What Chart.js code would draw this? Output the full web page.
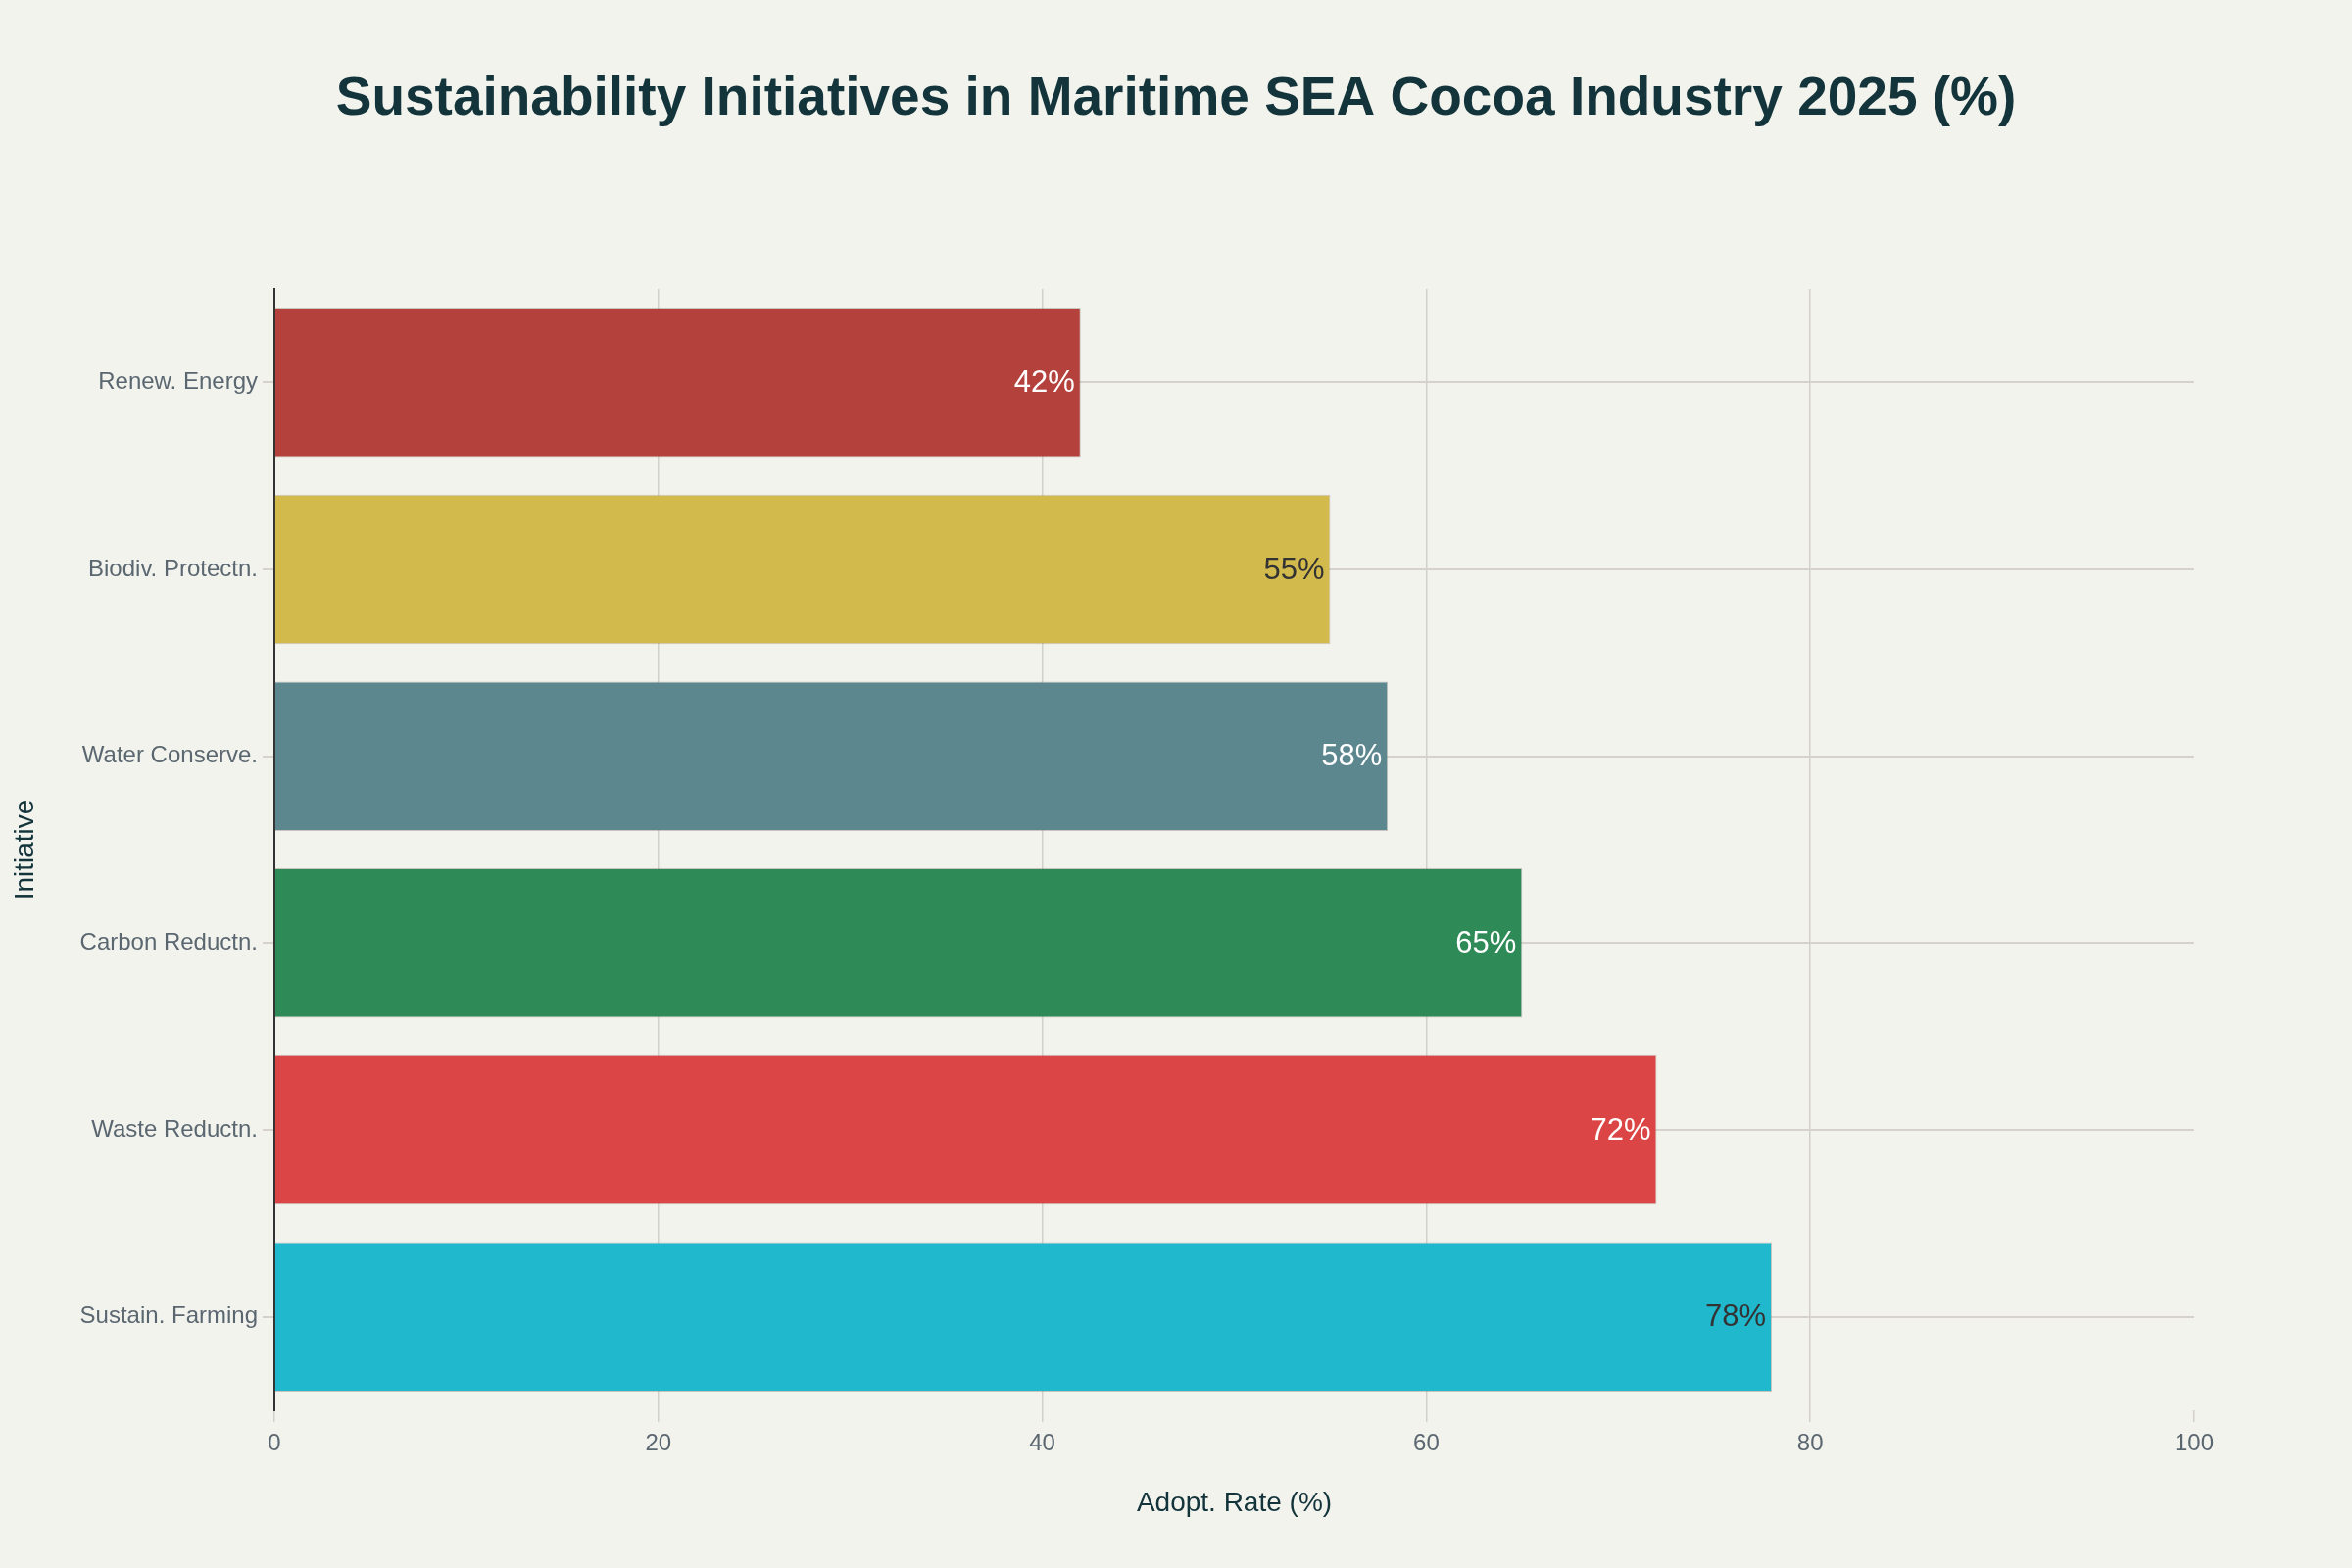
<!DOCTYPE html>
<html>
<head>
<meta charset="utf-8">
<script src="https://cdn.jsdelivr.net/npm/chart.js@4.4.1/dist/chart.umd.min.js"></script>
<style>
  html, body { margin: 0; padding: 0; background: #F3F3EE; }
  canvas { display: block; }
</style>
</head>
<body>
<canvas id="c" width="2400" height="1600"></canvas>
<script>
// ---- data ----
const titleText = 'Sustainability Initiatives in Maritime SEA Cocoa Industry 2025 (%)';
const categories = ['Renew. Energy', 'Biodiv. Protectn.', 'Water Conserve.', 'Carbon Reductn.', 'Waste Reductn.', 'Sustain. Farming'];
const adoptionRates = [42, 55, 58, 65, 72, 78];
const xAxisTitle = 'Adopt. Rate (%)';
const yAxisTitle = 'Initiative';
const xMin = 0, xMax = 100, xStep = 20;
const barColors = ['#B4413C', '#D2BA4C', '#5D878F', '#2E8B57', '#DB4545', '#1FB8CD'];

// ---- style ----
const FONT = '"Liberation Sans", Arial, sans-serif';
const TITLE_COLOR = '#13343B';
const TICK_COLOR = '#5B6770';
const GRID_COLOR = '#D6D1CC';
const BG = '#F3F3EE';

// fit title width to reference
const mctx = document.createElement('canvas').getContext('2d');
mctx.font = 'bold 100px ' + FONT;
const titleSize = Math.round(100 * 1722 / mctx.measureText(titleText).width);
const titleLH = 1.2;
const titleCenterY = 102;

function luminance(hex) {
  const r = parseInt(hex.slice(1, 3), 16), g = parseInt(hex.slice(3, 5), 16), b = parseInt(hex.slice(5, 7), 16);
  return (0.2126 * r + 0.7152 * g + 0.0722 * b) / 255;
}

const bgPlugin = {
  id: 'bg',
  beforeDraw(chart) {
    const ctx = chart.ctx;
    ctx.save();
    ctx.fillStyle = BG;
    ctx.fillRect(0, 0, chart.width, chart.height);
    ctx.restore();
  }
};

const valueLabels = {
  id: 'valueLabels',
  afterDatasetsDraw(chart) {
    const ctx = chart.ctx;
    const meta = chart.getDatasetMeta(0);
    ctx.save();
    ctx.font = '31px ' + FONT;
    ctx.textAlign = 'right';
    ctx.textBaseline = 'middle';
    meta.data.forEach((bar, i) => {
      ctx.fillStyle = luminance(barColors[i]) > 0.55 ? '#333333' : '#FFFFFF';
      ctx.fillText(adoptionRates[i] + '%', bar.x - 6, bar.y + 1);
    });
    ctx.restore();
  }
};

Chart.defaults.font.family = FONT;

new Chart(document.getElementById('c'), {
  type: 'bar',
  data: {
    labels: categories,
    datasets: [{
      data: adoptionRates,
      backgroundColor: barColors,
      borderColor: 'rgba(120,110,100,0.35)',
      borderWidth: 1,
      barPercentage: 0.8,
      categoryPercentage: 1.0
    }]
  },
  options: {
    indexAxis: 'y',
    responsive: false,
    animation: false,
    devicePixelRatio: 1,
    layout: { padding: 0 },
    plugins: {
      legend: { display: false },
      tooltip: { enabled: false },
      title: {
        display: true,
        text: titleText,
        color: TITLE_COLOR,
        font: { size: titleSize, weight: 'bold', lineHeight: titleLH },
        padding: { top: titleCenterY - titleSize * titleLH / 2, bottom: 295 - titleCenterY - titleSize * titleLH / 2 }
      }
    },
    scales: {
      x: {
        min: xMin,
        max: xMax,
        afterFit(scale) { scale.height = 161; },
        ticks: { stepSize: xStep, color: TICK_COLOR, font: { size: 24 }, padding: 8 },
        grid: {
          color: (c) => (c.tick && (c.tick.value === xMin || c.tick.value === xMax)) ? 'rgba(0,0,0,0)' : '#D3CFCA',
          tickColor: '#D3CFCA',
          lineWidth: 1.5,
          tickLength: 12
        },
        border: { display: false },
        title: {
          display: true,
          text: xAxisTitle,
          color: TITLE_COLOR,
          font: { size: 28, lineHeight: 1.2 },
          padding: { top: 0, bottom: 49 }
        }
      },
      y: {
        afterFit(scale) { scale.width = 280; },
        ticks: { color: TICK_COLOR, font: { size: 24 }, padding: 5 },
        grid: {
          offset: false,
          color: GRID_COLOR,
          lineWidth: 2,
          tickLength: 12
        },
        border: { display: true, color: '#333333', width: 2 },
        title: {
          display: true,
          text: yAxisTitle,
          color: TITLE_COLOR,
          font: { size: 28, lineHeight: 1.2 },
          padding: { top: 9, bottom: 0 }
        }
      },
      rightSpace: {
        type: 'linear',
        position: 'right',
        display: true,
        afterFit(scale) { scale.width = 161; },
        grid: { display: false, drawTicks: false },
        ticks: { display: false },
        border: { display: false },
        title: { display: false }
      }
    }
  },
  plugins: [bgPlugin, valueLabels]
});
</script>
</body>
</html>
